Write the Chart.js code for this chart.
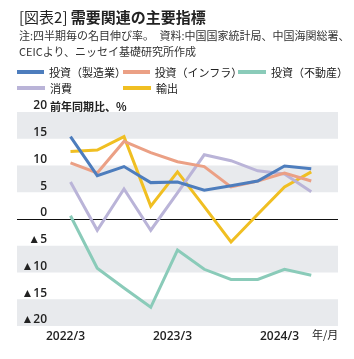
<!DOCTYPE html>
<html>
<head>
<meta charset="utf-8">
<script src="https://cdn.jsdelivr.net/npm/chart.js@4.4.1/dist/chart.umd.min.js"></script>
<style>
body { margin: 0; background: #fff; font-family: "Noto Sans CJK JP", sans-serif; color: #222; }
#wrap { position: relative; width: 354px; height: 359px; overflow: hidden; }
#chart { position: absolute; left: 0; top: 0; }
.t { position: absolute; white-space: nowrap; line-height: 1; }
#title { left: 19px; top: 9px; font-size: 15px; color: #222; }
#title b { font-weight: bold; }
.note { left: 19px; font-size: 11px; color: #333; }
#legend { position: absolute; left: 17px; top: 64px; display: grid; grid-template-columns: 106px 115px auto; grid-auto-rows: 16px; font-size: 11px; line-height: 1; }
#legend div { display: flex; align-items: center; }
#legend span.sw { display: inline-block; width: 28px; height: 4px; margin-right: 5px; }
#unit { left: 50px; top: 101px; font-size: 11px; font-weight: bold; }
#xunit { left: 312px; top: 329px; font-size: 11px; }
</style>
</head>
<body>
<div id="wrap">
  <canvas id="chart" width="354" height="359"></canvas>
  <div class="t" id="title">[図表2] <b>需要関連の主要指標</b></div>
  <div class="t note" style="top:30px">注:四半期毎の名目伸び率。　資料:中国国家統計局、中国海関総署、</div>
  <div class="t note" style="top:46px">CEICより、ニッセイ基礎研究所作成</div>
  <div id="legend"></div>
  <div class="t" id="unit">前年同期比、%</div>
  <div class="t" id="xunit">年/月</div>
</div>
<script>
// 四半期ごとの前年同期比 (%)
const quarters = ['2022/3', '2022/6', '2022/9', '2022/12', '2023/3', '2023/6', '2023/9', '2023/12', '2024/3', '2024/6'];
const manufacturing = [15.4, 8.1, 9.8, 6.8, 6.9, 5.4, 6.2, 7.1, 9.9, 9.4];
const infrastructure = [10.5, 8.6, 14.5, 12.4, 10.7, 9.8, 6.0, 7.1, 8.6, 7.1];
const realEstate = [0.6, -9.2, -12.9, -16.5, -5.8, -9.4, -11.3, -11.3, -9.4, -10.5];
const consumption = [6.9, -2.1, 5.6, -2.1, 4.9, 12.0, 10.9, 9.0, 8.4, 5.1];
const exportsGrowth = [12.6, 12.9, 15.4, 2.4, 8.8, 2.3, -4.3, 0.9, 6.0, 8.8];

const seriesNames = ['投資（製造業）', '投資（インフラ）', '投資（不動産）', '消費', '輸出'];
const seriesColors = ['#4d7dbd', '#eba085', '#8acbb9', '#bab4d8', '#f0bf22'];
const seriesValues = [manufacturing, infrastructure, realEstate, consumption, exportsGrowth];

// x軸の左右に余白のカテゴリを置く
const labels = ['', ''].concat(quarters, ['']);

const legend = document.getElementById('legend');
seriesNames.forEach(function(name, i) {
    const item = document.createElement('div');
    item.innerHTML = '<span class="sw" style="background:' + seriesColors[i] + '"></span>' + name;
    legend.appendChild(item);
});

const bandPlugin = {
    id: 'bands',
    beforeDraw(chart) {
        const { ctx, chartArea: a, scales: { y } } = chart;
        ctx.save();
        ctx.fillStyle = '#e8eaed';
        [[15, 20], [5, 10], [-10, -5], [-20, -15]].forEach(function(b) {
            const top = y.getPixelForValue(b[1]);
            const bottom = y.getPixelForValue(b[0]);
            ctx.fillRect(a.left, top, a.right - a.left, bottom - top);
        });
        const zy = Math.round(y.getPixelForValue(0)) + 0.5;
        ctx.strokeStyle = '#111';
        ctx.lineWidth = 1;
        ctx.beginPath();
        ctx.moveTo(a.left, zy);
        ctx.lineTo(a.right, zy);
        ctx.stroke();
        ctx.restore();
    }
};

Chart.defaults.font.family = '"Noto Sans CJK JP", sans-serif';
const tickFamily = '"Open Sans", "Liberation Sans", "Noto Sans CJK JP", sans-serif';

// 目盛ラベルの右端を x=47 にそろえるための幅
const mctx = document.createElement('canvas').getContext('2d');
mctx.font = '600 12px ' + tickFamily;
const widestLabel = mctx.measureText('▲20').width;

const ctx = document.getElementById('chart').getContext('2d');
const demandChart = new Chart(ctx, {
    type: 'line',
    data: {
        labels: labels,
        datasets: seriesNames.map(function(name, i) {
            return {
                label: name,
                data: [null, null].concat(seriesValues[i]),
                borderColor: seriesColors[i],
                backgroundColor: seriesColors[i],
                borderWidth: 3,
                pointRadius: 0,
                tension: 0,
                fill: false
            };
        })
    },
    plugins: [bandPlugin],
    options: {
        responsive: false,
        animation: false,
        layout: { padding: { left: 17, right: 16, top: 112, bottom: 13 } },
        plugins: {
            legend: { display: false },
            tooltip: { enabled: false }
        },
        scales: {
            x: {
                grid: { display: false, drawTicks: false },
                border: { display: false },
                afterFit(s) { s.height = 20; },
                ticks: {
                    autoSkip: false,
                    maxRotation: 0,
                    padding: 3,
                    labelOffset: -5,
                    color: '#222',
                    font: { size: 12, weight: '600', family: tickFamily },
                    callback: function(v) {
                        const l = this.getLabelForValue(v);
                        return l.endsWith('/3') ? l : '';
                    }
                }
            },
            y: {
                min: -20,
                max: 20,
                grid: { display: false, drawTicks: false },
                border: { display: false },
                afterFit(s) { s.width = 0; },
                ticks: {
                    stepSize: 5,
                    autoSkip: false,
                    mirror: true,
                    crossAlign: 'far',
                    padding: 30 - widestLabel,
                    labelOffset: -6,
                    color: '#222',
                    font: { size: 12, weight: '600', family: tickFamily },
                    callback: v => v < 0 ? '▲' + (-v) : String(v)
                }
            }
        }
    }
});
</script>
</body>
</html>
